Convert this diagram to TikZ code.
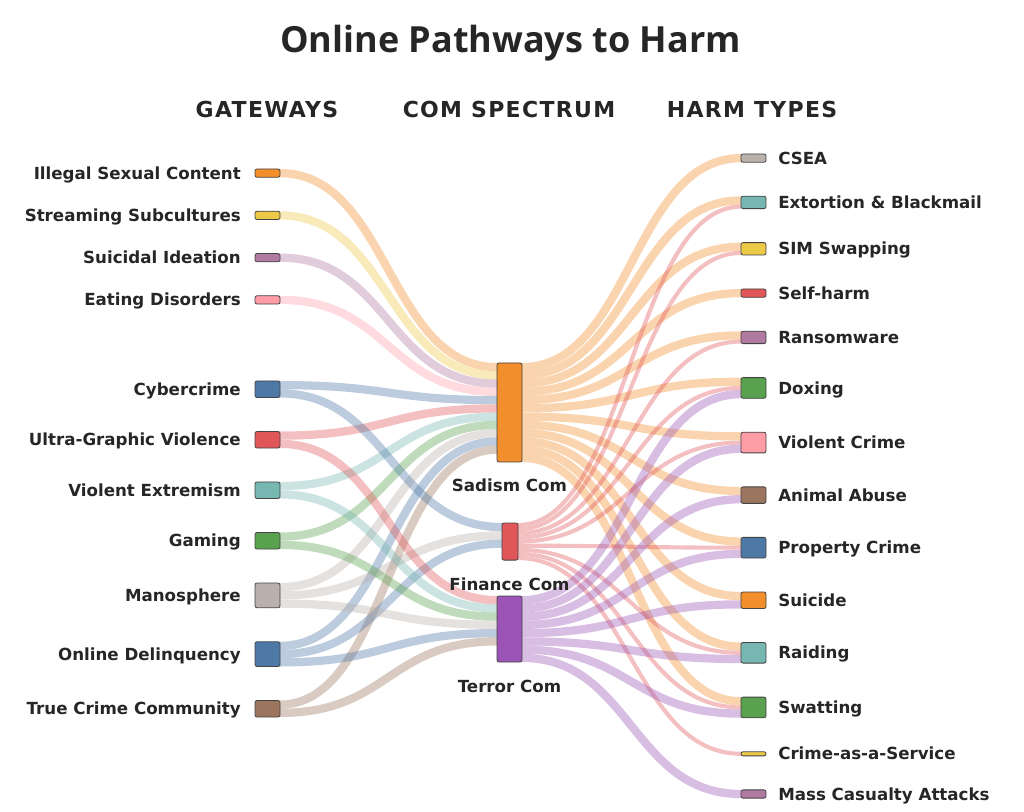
\documentclass[tikz,border=0pt]{standalone}
\usepackage{fontspec}
\setmainfont{DejaVu Sans}
\newfontfamily\titlefont{Open Sans}
\newfontfamily\headfont[LetterSpace=6]{DejaVu Sans}
\usetikzlibrary{calc}

\definecolor{ink}{HTML}{262626}
\definecolor{edge}{HTML}{444444}
\definecolor{tOrange}{HTML}{F28E2B}
\definecolor{tYellow}{HTML}{EDC948}
\definecolor{tMauve}{HTML}{B07AA1}
\definecolor{tPink}{HTML}{FF9DA7}
\definecolor{tBlue}{HTML}{4E79A7}
\definecolor{tRed}{HTML}{E15759}
\definecolor{tTeal}{HTML}{76B7B2}
\definecolor{tGreen}{HTML}{59A14F}
\definecolor{tGrey}{HTML}{BAB0AC}
\definecolor{tBrown}{HTML}{9C755F}
\definecolor{tPurple}{HTML}{9B54B5}

\pgfdeclarelayer{bg}
\pgfsetlayers{bg,main}

\tikzset{
  box/.style={rectangle,rounded corners=1.5pt,draw=edge,line width=0.6pt,inner sep=0pt,outer sep=0pt,minimum width=18.75pt,anchor=north west},
  lbl/.style={text=ink,inner sep=0pt,font=\bfseries\fontsize{12.5}{15}\selectfont},
  head/.style={text=ink,inner sep=0pt,anchor=base,font=\headfont\bfseries\fontsize{16.5}{20}\selectfont},
  flow/.style={draw opacity=0.38}
}
\newcommand{\flow}[6]{\draw[flow,draw=#5,line width=#6] ($(#1.north east)+(0,#2)$) .. controls +(109,0) and +(-109,0) .. ($(#3.north west)+(0,#4)$);}

\begin{document}
\begin{tikzpicture}[x=0.75pt,y=-0.75pt]
\useasboundingbox (0,0) rectangle (1024,812);

\node[text=ink,inner sep=0pt,anchor=base,font=\titlefont\bfseries\fontsize{27}{32}\selectfont] (title) at (510.5,52.8) {Online Pathways to Harm};
\node[head] (gw-h) at (267,118) {GATEWAYS};
\node[head] (com-h) at (509,118) {COM SPECTRUM};
\node[head] (harm-h) at (752,118) {HARM TYPES};

\foreach \n/\y/\h/\c/\t in {ill/169/6.19/tOrange/Illegal Sexual Content,str/211.25/6.19/tYellow/Streaming Subcultures,sui/253.5/6.19/tMauve/Suicidal Ideation,eat/295.75/6.19/tPink/Eating Disorders,cyb/381/12.38/tBlue/Cybercrime,ugv/431.5/12.38/tRed/Ultra-Graphic Violence,vex/482/12.38/tTeal/Violent Extremism,gam/532.5/12.38/tGreen/Gaming,man/583/18.56/tGrey/Manosphere,old/641.75/18.56/tBlue/Online Delinquency,tcc/700.5/12.38/tBrown/True Crime Community}
{
  \node[box,minimum height=\h pt,fill=\c] (\n) at (255,\y) {};
  \node[lbl,anchor=base east] (\n-t) at ($(\n.west)+(-14,6.1)$) {\t};
}

\node[box,minimum height=74.25pt,fill=tOrange] (sad) at (497,363) {};
\node[box,minimum width=12pt,minimum height=27.84pt,fill=tRed] (fin) at (502,523) {};
\node[box,minimum height=49.5pt,fill=tPurple] (ter) at (497,596) {};
\node[lbl,anchor=base] (sad-t) at (509.5,492) {Sadism Com};
\node[lbl,anchor=base] (fin-t) at (509.5,590) {Finance Com};
\node[lbl,anchor=base] (ter-t) at (509.5,692) {Terror Com};

\foreach \n/\y/\h/\c/\t in {csea/154/6.19/tGrey/CSEA,ext/196.25/9.28/tTeal/Extortion \& Blackmail,sim/242.625/9.28/tYellow/SIM Swapping,slf/289/6.19/tRed/Self-harm,ran/331.25/9.28/tMauve/Ransomware,dox/377.625/15.47/tGreen/Doxing,vcr/432.25/15.47/tPink/Violent Crime,ani/486.875/12.38/tBrown/Animal Abuse,pro/537.375/15.47/tBlue/Property Crime,scd/592/12.38/tOrange/Suicide,rai/642.5/15.47/tTeal/Raiding,swa/697.125/15.47/tGreen/Swatting,caas/751.75/3.09/tYellow/Crime-as-a-Service,mca/789.875/6.19/tMauve/Mass Casualty Attacks}
{
  \node[box,minimum height=\h pt,fill=\c] (\n) at (741,\y) {};
  \node[lbl,anchor=base west] (\n-t) at ($(\n.east)+(12,6.1)$) {\t};
}

\begin{pgfonlayer}{bg}
\flow{ill}{4.13}{sad}{4.13}{tOrange}{6.19pt}
\flow{str}{4.13}{sad}{12.38}{tYellow}{6.19pt}
\flow{sui}{4.13}{sad}{20.63}{tMauve}{6.19pt}
\flow{eat}{4.13}{sad}{28.88}{tPink}{6.19pt}
\flow{cyb}{4.13}{sad}{37.13}{tBlue}{6.19pt}
\flow{ugv}{4.13}{sad}{45.38}{tRed}{6.19pt}
\flow{vex}{4.13}{sad}{53.63}{tTeal}{6.19pt}
\flow{gam}{4.13}{sad}{61.88}{tGreen}{6.19pt}
\flow{man}{4.13}{sad}{70.13}{tGrey}{6.19pt}
\flow{old}{4.13}{sad}{78.38}{tBlue}{6.19pt}
\flow{tcc}{4.13}{sad}{86.63}{tBrown}{6.19pt}
\flow{cyb}{12.38}{fin}{4.13}{tBlue}{6.19pt}
\flow{man}{12.38}{fin}{12.38}{tGrey}{6.19pt}
\flow{old}{12.38}{fin}{20.63}{tBlue}{6.19pt}
\flow{ugv}{12.38}{ter}{4.13}{tRed}{6.19pt}
\flow{vex}{12.38}{ter}{12.38}{tTeal}{6.19pt}
\flow{gam}{12.38}{ter}{20.63}{tGreen}{6.19pt}
\flow{man}{20.63}{ter}{28.88}{tGrey}{6.19pt}
\flow{old}{20.63}{ter}{37.13}{tBlue}{6.19pt}
\flow{tcc}{12.38}{ter}{45.38}{tBrown}{6.19pt}

\flow{sad}{4.13}{csea}{4.13}{tOrange}{6.19pt}
\flow{sad}{12.38}{ext}{4.13}{tOrange}{6.19pt}
\flow{sad}{20.63}{sim}{4.13}{tOrange}{6.19pt}
\flow{sad}{28.88}{slf}{4.13}{tOrange}{6.19pt}
\flow{sad}{37.13}{ran}{4.13}{tOrange}{6.19pt}
\flow{sad}{45.38}{dox}{4.13}{tOrange}{6.19pt}
\flow{sad}{53.63}{vcr}{4.13}{tOrange}{6.19pt}
\flow{sad}{61.88}{ani}{4.13}{tOrange}{6.19pt}
\flow{sad}{70.13}{pro}{4.13}{tOrange}{6.19pt}
\flow{sad}{78.38}{scd}{4.13}{tOrange}{6.19pt}
\flow{sad}{86.63}{rai}{4.13}{tOrange}{6.19pt}
\flow{sad}{94.88}{swa}{4.13}{tOrange}{6.19pt}

\flow{fin}{2.06}{ext}{10.31}{tRed}{3.09pt}
\flow{fin}{6.19}{sim}{10.31}{tRed}{3.09pt}
\flow{fin}{10.31}{ran}{10.31}{tRed}{3.09pt}
\flow{fin}{14.44}{dox}{10.31}{tRed}{3.09pt}
\flow{fin}{18.56}{vcr}{10.31}{tRed}{3.09pt}
\flow{fin}{22.69}{pro}{10.31}{tRed}{3.09pt}
\flow{fin}{26.81}{rai}{10.31}{tRed}{3.09pt}
\flow{fin}{30.94}{swa}{10.31}{tRed}{3.09pt}
\flow{fin}{35.06}{caas}{2.06}{tRed}{3.09pt}

\flow{ter}{4.13}{dox}{16.5}{tPurple}{6.19pt}
\flow{ter}{12.38}{vcr}{16.5}{tPurple}{6.19pt}
\flow{ter}{20.63}{ani}{12.38}{tPurple}{6.19pt}
\flow{ter}{28.88}{pro}{16.5}{tPurple}{6.19pt}
\flow{ter}{37.13}{scd}{12.38}{tPurple}{6.19pt}
\flow{ter}{45.38}{rai}{16.5}{tPurple}{6.19pt}
\flow{ter}{53.63}{swa}{16.5}{tPurple}{6.19pt}
\flow{ter}{61.88}{mca}{4.13}{tPurple}{6.19pt}
\end{pgfonlayer}
\end{tikzpicture}
\end{document}
